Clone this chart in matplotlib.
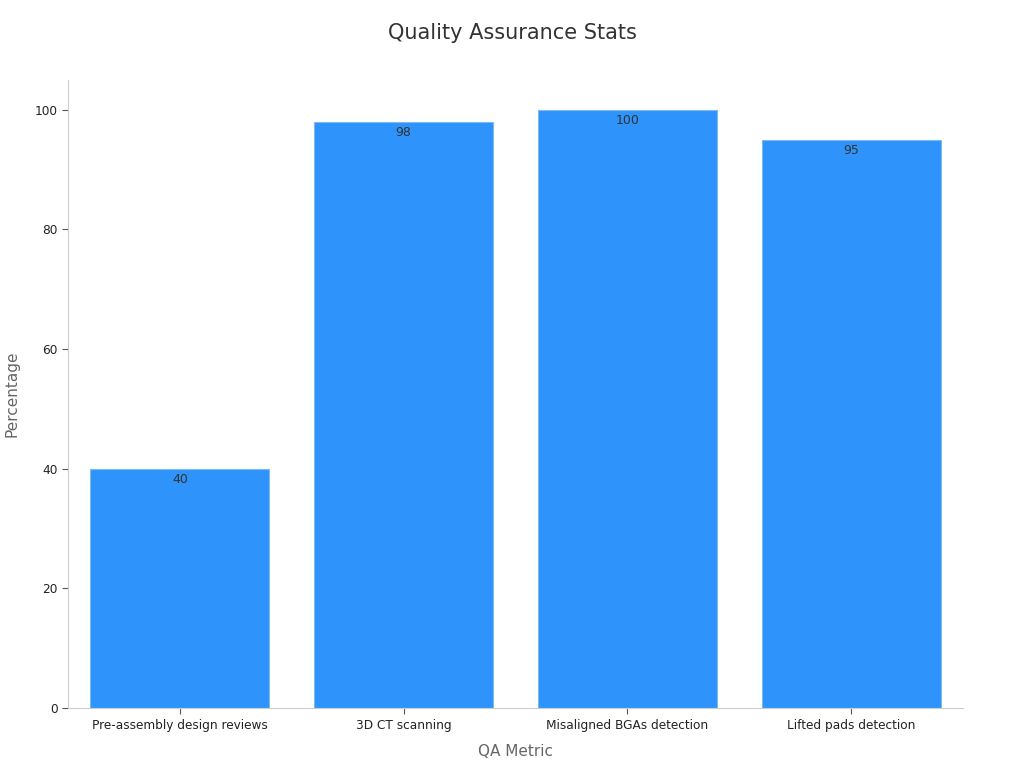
import matplotlib.pyplot as plt

categories = ["Pre-assembly design reviews", "3D CT scanning", "Misaligned BGAs detection", "Lifted pads detection"]
values = [40, 98, 100, 95]

fig = plt.figure(figsize=(10.24, 7.68), dpi=100)
ax = fig.add_axes([0.0664, 0.078, 0.874, 0.818])

bars = ax.bar(range(len(categories)), values, width=0.8, color="#2E93FA", edgecolor="#7DB9F5", linewidth=0.8)
for rect, v in zip(bars, values):
    ax.text(rect.get_x() + rect.get_width() / 2, v - 0.7, str(v), ha="center", va="top",
            fontsize=9, color="#333333")

ax.set_xlim(-0.5, 3.5)
ax.set_ylim(0, 105)
ax.set_yticks([0, 20, 40, 60, 80, 100])
ax.set_xticks(range(len(categories)))
ax.set_xticklabels(categories, fontsize=8.7, color="#222222")
ax.tick_params(axis="y", labelsize=8.7, labelcolor="#222222", color="#555555", length=4)
ax.tick_params(axis="x", color="#555555", length=4)

for side in ["top", "right"]:
    ax.spines[side].set_visible(False)
for side in ["left", "bottom"]:
    ax.spines[side].set_color("#CCCCCC")

ax.set_xlabel("QA Metric", fontsize=11, color="#666666", labelpad=9)
ax.set_ylabel("Percentage", fontsize=11, color="#666666", labelpad=11)
fig.suptitle("Quality Assurance Stats", fontsize=15, color="#333333", y=0.97)

plt.savefig("out.png", dpi=100)
plt.close()
